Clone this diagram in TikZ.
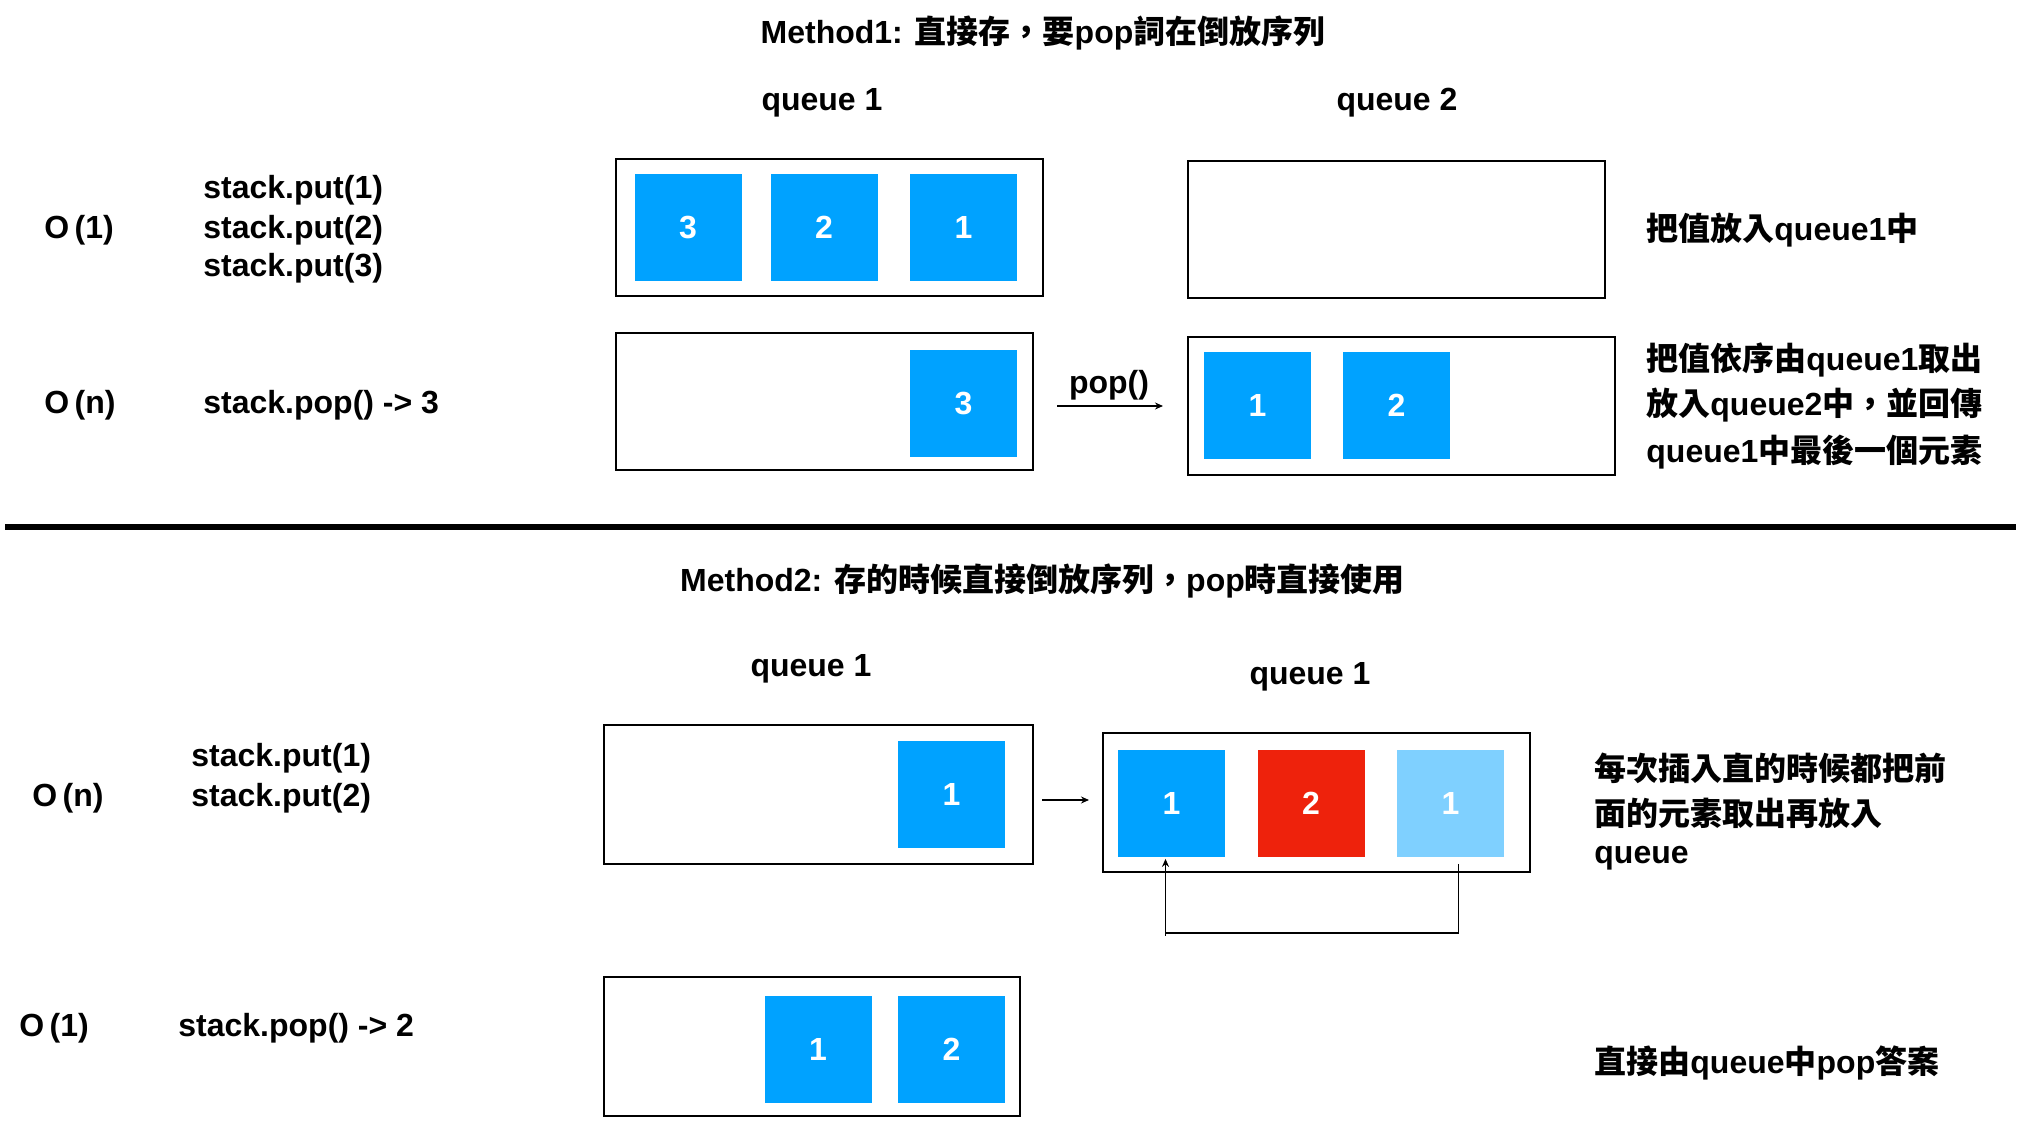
\documentclass[tikz,border=0pt]{standalone}
\usepackage{fontspec}
\setmainfont{Liberation Sans}
\newfontfamily\cjkfont{Noto Sans CJK TC}
\newcommand{\cj}[1]{{\cjkfont\bfseries #1}}
\usetikzlibrary{calc,arrows.meta}
\definecolor{qblue}{HTML}{00A2FF}
\definecolor{qred}{HTML}{EE220C}
\definecolor{qlight}{HTML}{7FD0FF}
\tikzset{
  txt/.style={font=\fontsize{16}{19}\selectfont\bfseries, inner sep=0pt},
  lt/.style={txt, anchor=west},
  ct/.style={txt, anchor=center},
  qbox/.style={draw=black, line width=1pt, rectangle, inner sep=0pt},
  cell/.style={rectangle, inner sep=0pt, minimum width=53.5pt, minimum height=53.5pt, text=white, font=\fontsize{16}{19}\selectfont\bfseries},
  bcell/.style={cell, fill=qblue},
  rcell/.style={cell, fill=qred},
  lcell/.style={cell, fill=qlight},
  conn/.style={line width=0.6pt, -{Stealth[length=4pt,width=3.5pt]}},
}
\begin{document}
\begin{tikzpicture}[x=0.5pt,y=-0.5pt]
\useasboundingbox (0,0) rectangle (2020,1134);
% ---------- Method 1 ----------
\node[ct] (t1) at (1043,33) {Method1: \cj{直接存，要}pop\cj{詞在倒放序列}};
\node[ct] (q1a) at (822,103) {queue 1};
\node[ct] (q2a) at (1397,103) {queue 2};
\node[qbox, minimum width=213.5pt, minimum height=68.5pt] (A) at (829.5,227.5) {};
\node[bcell] (a3) at (688,227.5) {3};
\node[bcell] (a2) at (824,227.5) {2};
\node[bcell] (a1) at (963.5,227.5) {1};
\node[qbox, minimum width=208.5pt, minimum height=68.5pt] (B) at (1396.5,229.5) {};
\node[qbox, minimum width=208.5pt, minimum height=68.5pt] (C) at (824.5,401.5) {};
\node[bcell] (c3) at (963.5,403.5) {3};
\node[qbox, minimum width=213.5pt, minimum height=69pt] (D) at (1401.5,406) {};
\node[bcell] (d1) at (1257.5,405.5) {1};
\node[bcell] (d2) at (1396.5,405.5) {2};
\node[ct] (pop) at (1109,385) {pop()};
\coordinate (pa) at (1057,406);
\coordinate (pb) at (1163,406);
\draw[conn] (pa) -- (pb);
\node[lt] (o1) at (44,230) {O\,(1)};
\node[lt] (s1) at (203,190) {stack.put(1)};
\node[lt] (s2) at (203,230) {stack.put(2)};
\node[lt] (s3) at (203,268) {stack.put(3)};
\node[lt] (on) at (44,405) {O\,(n)};
\node[lt] (sp) at (203,405) {stack.pop() -> 3};
\node[lt] (r1) at (1646,230) {\cj{把值放入}queue1\cj{中}};
\node[lt] (r2) at (1646,360) {\cj{把值依序由}queue1\cj{取出}};
\node[lt] (r3) at (1646,405) {\cj{放入}queue2\cj{中，並回傳}};
\node[lt] (r4) at (1646,452) {queue1\cj{中最後一個元素}};
% ---------- separator ----------
\coordinate (sepL) at (5,527);
\coordinate (sepR) at (2016,527);
\draw[line width=3pt] (sepL) -- (sepR);
% ---------- Method 2 ----------
\node[ct] (t2) at (1042.5,581) {Method2: \cj{存的時候直接倒放序列，}pop\cj{時直接使用}};
\node[ct] (q1b) at (811,669) {queue 1};
\node[ct] (q1c) at (1310,677) {queue 1};
\node[qbox, minimum width=214.5pt, minimum height=69.5pt] (E) at (818.5,794.5) {};
\node[bcell] (e1) at (951.5,794.5) {1};
\coordinate (ea) at (1042,800);
\coordinate (eb) at (1089,800);
\draw[conn] (ea) -- (eb);
\node[qbox, minimum width=213.5pt, minimum height=69.5pt] (F) at (1316.5,802.5) {};
\node[bcell] (f1) at (1171.5,803) {1};
\node[rcell] (f2) at (1311,803) {2};
\node[lcell] (f3) at (1450.5,803) {1};
\coordinate (l1) at ($(f3.south)+(8,7)$);
\coordinate (l2) at ($(f1.south)+(-6,2)$);
\coordinate (l3) at ($(f1.south)+(-6,79)$);
\draw[line width=0.8pt] (l1) -- ++(0,69) -- ($(l3)+(0,-3)$);
\draw[conn] (l3) -- (l2);
\node[lt] (on2) at (32,798) {O\,(n)};
\node[lt] (u1) at (191,758) {stack.put(1)};
\node[lt] (u2) at (191,798) {stack.put(2)};
\node[qbox, minimum width=208pt, minimum height=69.5pt] (G) at (812,1046.5) {};
\node[bcell] (g1) at (818,1049.5) {1};
\node[bcell] (g2) at (951.5,1049.5) {2};
\node[lt] (o12) at (19,1028) {O\,(1)};
\node[lt] (up) at (178,1028) {stack.pop() -> 2};
\node[lt] (w1) at (1594,768) {\cj{每次插入直的時候都把前}};
\node[lt] (w2) at (1594,813) {\cj{面的元素取出再放入}};
\node[lt] (w3) at (1594,858) {queue};
\node[lt] (w4) at (1594,1063) {\cj{直接由}queue\cj{中}pop\cj{答案}};
\end{tikzpicture}
\end{document}
